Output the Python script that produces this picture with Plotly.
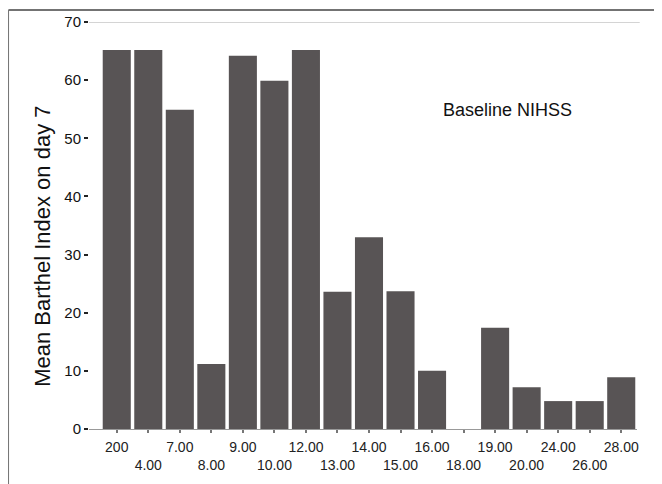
import plotly.graph_objects as go

categories = ["2.00", "4.00", "7.00", "8.00", "9.00", "10.00", "12.00", "13.00", "14.00",
              "15.00", "16.00", "18.00", "19.00", "20.00", "24.00", "26.00", "28.00"]
tick_labels = ["200", "4.00", "7.00", "8.00", "9.00", "10.00", "12.00", "13.00", "14.00",
               "15.00", "16.00", "18.00", "19.00", "20.00", "24.00", "26.00", "28.00"]
mean_barthel = [65.2, 65.2, 54.9, 11.2, 64.2, 59.9, 65.2, 23.6, 33.0,
                23.7, 10.0, 0, 17.4, 7.2, 4.8, 4.8, 8.9]
y_ticks = [0, 10, 20, 30, 40, 50, 60, 70]

# alternate labels between two rows
ticktext = [t if i % 2 == 0 else "<br>" + t for i, t in enumerate(tick_labels)]

FONT = "Liberation Sans, Arial, sans-serif"

fig = go.Figure()
fig.add_trace(go.Bar(
    x=categories,
    y=mean_barthel,
    marker=dict(color="#585455", line=dict(width=0)),
    showlegend=False,
))

fig.update_layout(
    width=662, height=484,
    margin=dict(l=81, r=33, t=14, b=63, autoexpand=False),
    paper_bgcolor="white", plot_bgcolor="white",
    bargap=0.11,
    font=dict(family=FONT, color="#111"),
    xaxis=dict(
        type="category",
        range=[-0.88, 16.5],
        tickmode="array", tickvals=categories, ticktext=ticktext,
        tickangle=0,
        tickfont=dict(size=14, family=FONT, color="#222"),
        ticks="outside", ticklen=3, tickcolor="#777", tickwidth=2,
        showline=True, linecolor="#999", linewidth=1,
        showgrid=False, zeroline=False,
        automargin=False,
        ticklabelstandoff=2,
    ),
    yaxis=dict(
        range=[0, 70],
        tickmode="array", tickvals=y_ticks,
        tickfont=dict(size=15, family=FONT, color="#111"),
        ticks="outside", ticklen=4, tickwidth=2, tickcolor="#222",
        showline=False, showgrid=False, zeroline=False,
        automargin=False,
    ),
    shapes=[
        dict(type="line", xref="paper", yref="y", x0=0, x1=1.005, y0=70, y1=70,
             line=dict(color="#aaa", width=1)),
        dict(type="line", xref="paper", yref="paper", x0=-0.147, x1=1.07, y0=1.0295, y1=1.0295,
             line=dict(color="#444", width=1.5)),
        dict(type="line", xref="paper", yref="paper", x0=-0.147, x1=-0.147, y0=1.0295, y1=-0.16,
             line=dict(color="#777", width=1.2)),
    ],
    annotations=[
        dict(text="Baseline NIHSS", xref="paper", yref="paper", x=0.763, y=0.784,
             showarrow=False, font=dict(size=18, family=FONT, color="#111"),
             xanchor="center", yanchor="middle"),
        dict(text="Mean Barthel Index on day 7", xref="paper", yref="paper", x=-0.084, y=0.45,
             showarrow=False, textangle=-90, font=dict(size=22, family=FONT, color="#111"),
             xanchor="center", yanchor="middle"),
    ],
)

fig.write_html("out.html")
